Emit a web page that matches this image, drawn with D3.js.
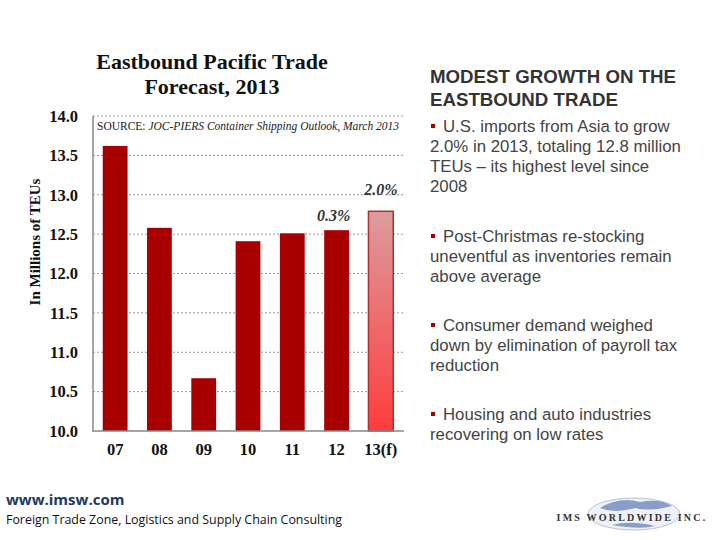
<!DOCTYPE html>
<html><head><meta charset="utf-8">
<script src="https://cdn.jsdelivr.net/npm/d3@7"></script>
<style>body{margin:0;background:#fff}svg{display:block}</style>
</head><body>
<svg id="c" width="720" height="540"></svg>
<script>
const categories = ["07","08","09","10","11","12","13(f)"];
const values = [13.62, 12.58, 10.67, 12.41, 12.51, 12.55, 12.79];
const yTicks = [10.0,10.5,11.0,11.5,12.0,12.5,13.0,13.5,14.0];
const growthLabels = [{cat:"12", text:"0.3%"},{cat:"13(f)", text:"2.0%"}];
const bullets = [
  ["U.S. imports from Asia to grow","2.0% in 2013, totaling 12.8 million","TEUs – its highest level since","2008"],
  ["Post-Christmas re-stocking","uneventful as inventories remain","above average"],
  ["Consumer demand weighed","down by elimination of payroll tax","reduction"],
  ["Housing and auto industries","recovering on low rates"]
];

const svg = d3.select("#c");
const serif = "'Liberation Serif','DejaVu Serif',serif";
const sans = "'Liberation Sans',Arial,sans-serif";

const x = d3.scaleBand().domain(categories).range([93,403]).paddingInner(0.44).paddingOuter(0.22);
const y = d3.scaleLinear().domain([10,14]).range([431,116]);

const defs = svg.append("defs");
const g = defs.append("linearGradient").attr("id","fg").attr("x1",0).attr("y1",0).attr("x2",0).attr("y2",1);
g.append("stop").attr("offset","0%").attr("stop-color","#dc9c9e");
g.append("stop").attr("offset","100%").attr("stop-color","#ff3c3c");

// title
svg.append("text").attr("x",212).attr("y",69).attr("text-anchor","middle")
  .attr("font-family",serif).attr("font-weight","bold").attr("font-size",22).attr("fill","#111").text("Eastbound Pacific Trade");
svg.append("text").attr("x",212).attr("y",94).attr("text-anchor","middle")
  .attr("font-family",serif).attr("font-weight","bold").attr("font-size",22).attr("fill","#111").text("Forecast, 2013");

// gridlines
svg.append("g").selectAll("line").data(yTicks.filter(d=>d>10)).join("line")
  .attr("x1",93).attr("x2",404).attr("y1",d=>y(d)).attr("y2",d=>y(d))
  .attr("stroke","#999").attr("stroke-width",1).attr("stroke-dasharray","2,2");

// y axis
const ya = d3.axisLeft(y).tickValues(yTicks).tickFormat(d3.format(".1f")).tickSize(0).tickPadding(15);
const yg = svg.append("g").attr("transform","translate(93,0)").call(ya);
yg.select(".domain").remove();
yg.selectAll("text").attr("font-family",serif).attr("font-weight","bold").attr("font-size",16.5).attr("fill","#111");
svg.append("line").attr("x1",93).attr("x2",93).attr("y1",116).attr("y2",431).attr("stroke","#888").attr("stroke-width",1.5);

// bars
svg.append("g").selectAll("rect").data(categories.map((c,i)=>({c,v:values[i]}))).join("rect")
  .attr("x",d=>x(d.c)).attr("width",x.bandwidth())
  .attr("y",d=>y(d.v)).attr("height",d=>y(10)-y(d.v))
  .attr("fill",d=>d.c==="13(f)"?"url(#fg)":"#a80000")
  .attr("stroke",d=>d.c==="13(f)"?"#b03030":"none").attr("stroke-width",1.5);

// x axis
const xa = d3.axisBottom(x).tickSize(0).tickPadding(12);
const xg = svg.append("g").attr("transform","translate(0,431)").call(xa);
xg.select(".domain").remove();
xg.selectAll("text").attr("font-family",serif).attr("font-weight","bold").attr("font-size",16.5).attr("fill","#111");
svg.append("line").attr("x1",92).attr("x2",404).attr("y1",431).attr("y2",431).attr("stroke","#888").attr("stroke-width",1.5);

// y title
svg.append("text").attr("transform","translate(40,242) rotate(-90)").attr("text-anchor","middle")
  .attr("font-family",serif).attr("font-weight","bold").attr("font-size",15).attr("fill","#111").text("In Millions of TEUs");

// source
const src = svg.append("text").attr("x",97).attr("y",130).attr("font-family",serif).attr("font-size",11.5).attr("fill","#222");
src.append("tspan").text("SOURCE: ");
src.append("tspan").attr("font-style","italic").text("JOC-PIERS Container Shipping Outlook, March 2013");

// growth labels
svg.append("g").selectAll("text").data(growthLabels).join("text")
  .attr("x",d=>x(d.cat)+x.bandwidth()/2 - (d.cat==="12"?3:0)).attr("y",d=>y(values[categories.indexOf(d.cat)])-16+(d.cat==="12"?7:0))
  .attr("text-anchor","middle").attr("font-family",serif).attr("font-weight","bold").attr("font-style","italic")
  .attr("font-size",16).attr("fill","#333").text(d=>d.text);

// right panel
svg.append("text").attr("x",430).attr("y",83).attr("font-family",sans).attr("font-weight","bold").attr("font-size",18.7).attr("fill","#333").text("MODEST GROWTH ON THE");
svg.append("text").attr("x",430).attr("y",106).attr("font-family",sans).attr("font-weight","bold").attr("font-size",18.7).attr("fill","#333").text("EASTBOUND TRADE");
const starts = [132, 242, 331, 420];
bullets.forEach((lines,bi)=>{
  svg.append("rect").attr("x",431).attr("y",starts[bi]-8).attr("width",4).attr("height",4).attr("fill","#a80000");
  lines.forEach((ln,li)=>{
    svg.append("text").attr("x",li===0?443:430).attr("y",starts[bi]+li*20).attr("font-family",sans)
      .attr("font-size",16.8).attr("fill","#444").text(ln);
  });
});

// footer
svg.append("text").attr("x",6).attr("y",505).attr("font-family","'Open Sans',sans-serif").attr("font-weight","bold").attr("font-size",15).attr("fill","#1f3864").text("www.imsw.com");
svg.append("text").attr("x",6).attr("y",524).attr("font-family","'Open Sans',sans-serif").attr("font-size",12).attr("fill","#111")
  .attr("textLength",336).attr("lengthAdjust","spacingAndGlyphs").text("Foreign Trade Zone, Logistics and Supply Chain Consulting");

// logo
const lg = svg.append("g");
lg.append("ellipse").attr("cx",634).attr("cy",514).attr("rx",46).attr("ry",16).attr("fill","#eef1f8").attr("stroke","#b8c2da");
lg.append("path").attr("d","M600,508 Q620,496 640,502 Q660,498 672,506 Q650,512 635,508 Q615,514 600,508Z").attr("fill","#8a9cc8");
lg.append("path").attr("d","M612,525 Q630,520 655,526 Q640,530 612,525Z").attr("fill","#8a9cc8");
lg.append("text").attr("x",632).attr("y",521).attr("text-anchor","middle").attr("font-family",serif).attr("font-weight","bold")
  .attr("font-size",10).attr("fill","#333").attr("letter-spacing",2.2).text("IMS WORLDWIDE INC.");
</script>
</body></html>
